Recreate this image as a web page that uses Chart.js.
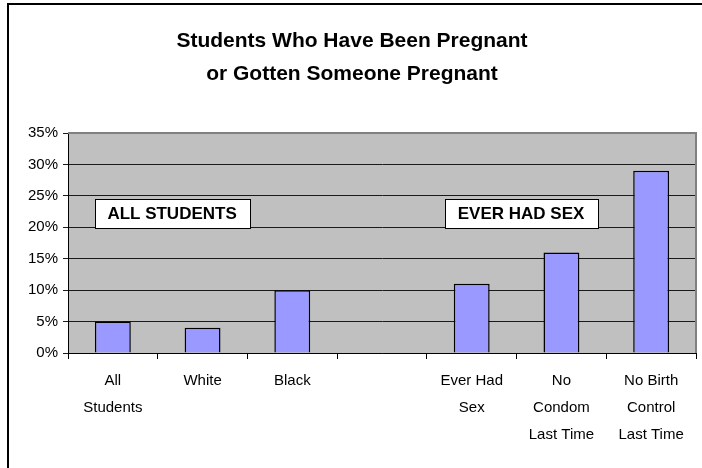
<!DOCTYPE html>
<html>
<head>
<meta charset="utf-8">
<script src="https://cdn.jsdelivr.net/npm/chart.js@4/dist/chart.umd.min.js"></script>
<style>
  body { margin: 0; background: #fff; }
  canvas { display: block; }
</style>
</head>
<body>
<canvas id="pregChart" width="702" height="468"></canvas>
<script>
// chart data
const categories = [
    ["All", "Students"],
    "White",
    "Black",
    "",
    ["Ever Had", "Sex"],
    ["No", "Condom", "Last Time"],
    ["No Birth", "Control", "Last Time"]
];
const percentPregnant = [5, 4, 10, null, 11, 16, 29];
const titleLines = ["Students Who Have Been Pregnant", "or Gotten Someone Pregnant"];
const groupLabels = ["ALL STUDENTS", "EVER HAD SEX"];

const FONT = "'Liberation Sans', Arial, sans-serif";

// background, frame, title, group boxes
const decorPlugin = {
    id: 'decor',
    beforeDraw(chart) {
        const { ctx, chartArea } = chart;
        ctx.save();
        ctx.fillStyle = '#fff';
        ctx.fillRect(0, 0, chart.width, chart.height);
        ctx.fillStyle = '#C0C0C0';
        ctx.fillRect(chartArea.left, chartArea.top, chartArea.right - chartArea.left, chartArea.bottom - chartArea.top);

        // outer frame (only left and top fall inside the picture)
        ctx.strokeStyle = '#000';
        ctx.lineWidth = 2;
        ctx.strokeRect(8, 4, chart.width + 10, chart.height + 10);

        // title
        ctx.fillStyle = '#000';
        ctx.font = 'bold 21px ' + FONT;
        ctx.textAlign = 'center';
        ctx.textBaseline = 'middle';
        ctx.fillText(titleLines[0], 352, 41);
        ctx.fillText(titleLines[1], 352, 74);
        ctx.restore();
    },
    beforeDatasetsDraw(chart) {
        const { ctx, chartArea } = chart;
        ctx.save();
        // plot area top / right edge in dark grey
        ctx.strokeStyle = '#808080';
        ctx.lineWidth = 2;
        ctx.beginPath();
        ctx.moveTo(chartArea.left, chartArea.top);
        ctx.lineTo(chartArea.right, chartArea.top);
        ctx.lineTo(chartArea.right, chartArea.bottom);
        ctx.stroke();
        ctx.restore();
    },
    afterDatasetsDraw(chart) {
        const { ctx, scales } = chart;
        const x = scales.x, y = scales.y;
        // group boxes sit at about 22% on the value axis
        const anchors = [0.66, 4.55];
        ctx.save();
        ctx.font = 'bold 17px ' + FONT;
        ctx.textAlign = 'center';
        ctx.textBaseline = 'middle';
        groupLabels.forEach((label, i) => {
            const cx = x.getPixelForValue(anchors[i]);
            const cy = y.getPixelForValue(22.2);
            const w = Math.round(ctx.measureText(label).width + 26);
            const h = 29;
            const left = Math.round(cx - w / 2);
            const top = Math.round(cy - h / 2);
            ctx.fillStyle = '#fff';
            ctx.fillRect(left, top, w, h);
            ctx.strokeStyle = '#000';
            ctx.lineWidth = 1;
            ctx.strokeRect(left + 0.5, top + 0.5, w, h);
            ctx.fillStyle = '#000';
            ctx.fillText(label, cx, cy + 1);
        });
        ctx.restore();
    }
};

const ctx = document.getElementById('pregChart').getContext('2d');
new Chart(ctx, {
    type: 'bar',
    data: {
        labels: categories,
        datasets: [{
            label: 'Pregnant',
            data: percentPregnant,
            backgroundColor: '#9999FF',
            borderColor: '#000',
            borderWidth: 1.5,
            barPercentage: 0.4,
            categoryPercentage: 1
        }]
    },
    options: {
        responsive: false,
        animation: false,
        devicePixelRatio: 1,
        layout: {
            padding: { left: 8, right: 6, top: 133, bottom: 0 }
        },
        plugins: {
            legend: { display: false },
            title: { display: false },
            tooltip: { enabled: false }
        },
        scales: {
            x: {
                grid: {
                    offset: true,
                    drawOnChartArea: false,
                    drawTicks: true,
                    tickLength: 6,
                    color: '#000'
                },
                border: { color: '#000', width: 1 },
                ticks: {
                    color: '#000',
                    font: { family: FONT, size: 15, lineHeight: 1.8 },
                    padding: 8,
                    maxRotation: 0,
                    autoSkip: false
                },
                afterFit(scale) { scale.height = 115; }
            },
            y: {
                min: 0,
                max: 35,
                ticks: {
                    stepSize: 5,
                    color: '#000',
                    font: { family: FONT, size: 15 },
                    padding: 5,
                    callback: v => v + '%'
                },
                grid: {
                    color: '#1a1a1a',
                    lineWidth: 1,
                    tickLength: 5
                },
                border: { color: '#000', width: 1 },
                afterFit(scale) { scale.width = 60; }
            }
        }
    },
    plugins: [decorPlugin]
});
</script>
</body>
</html>
